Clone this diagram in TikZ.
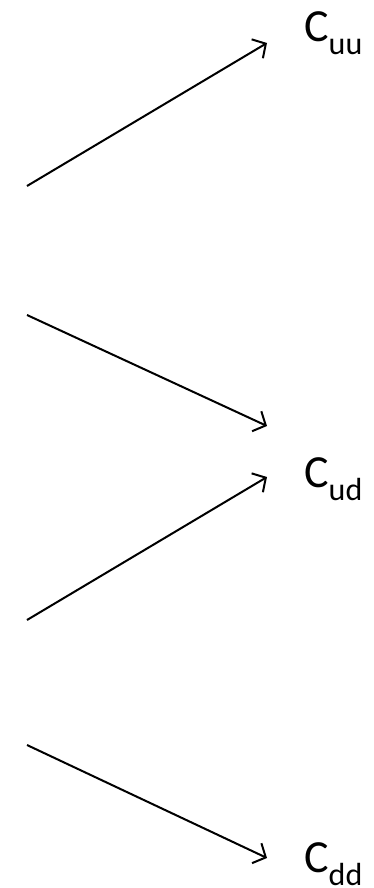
\documentclass[tikz,border=0pt]{standalone}
\usepackage{fontspec}
\setmainfont{Carlito}
\usetikzlibrary{arrows.meta}
\begin{document}
\begin{tikzpicture}[x=1pt,y=-1pt,
  conn/.style={line width=2pt,-{Straight Barb[length=10pt,width=22pt,line width=2pt]}},
  lbl/.style={anchor=base west,inner sep=0pt,font=\fontsize{46}{46}\selectfont}]
\useasboundingbox (0,0) rectangle (374,888);
\newcommand{\subx}[1]{\raisebox{-13pt}{\fontsize{32}{32}\selectfont #1}}
\coordinate (s1) at (27,186);
\coordinate (s2) at (27,315);
\coordinate (s3) at (27,620);
\coordinate (s4) at (27,745);
\coordinate (e1) at (267,43);
\coordinate (e2) at (267,426);
\coordinate (e3) at (267,477);
\coordinate (e4) at (267,858);
\node[lbl] (cuu) at (304,42) {C\subx{uu}};
\node[lbl] (cud) at (304,487) {C\subx{ud}};
\node[lbl] (cdd) at (304,872) {C\subx{dd}};
\draw[conn] (s1) -- (e1);
\draw[conn] (s2) -- (e2);
\draw[conn] (s3) -- (e3);
\draw[conn] (s4) -- (e4);
\end{tikzpicture}
\end{document}
